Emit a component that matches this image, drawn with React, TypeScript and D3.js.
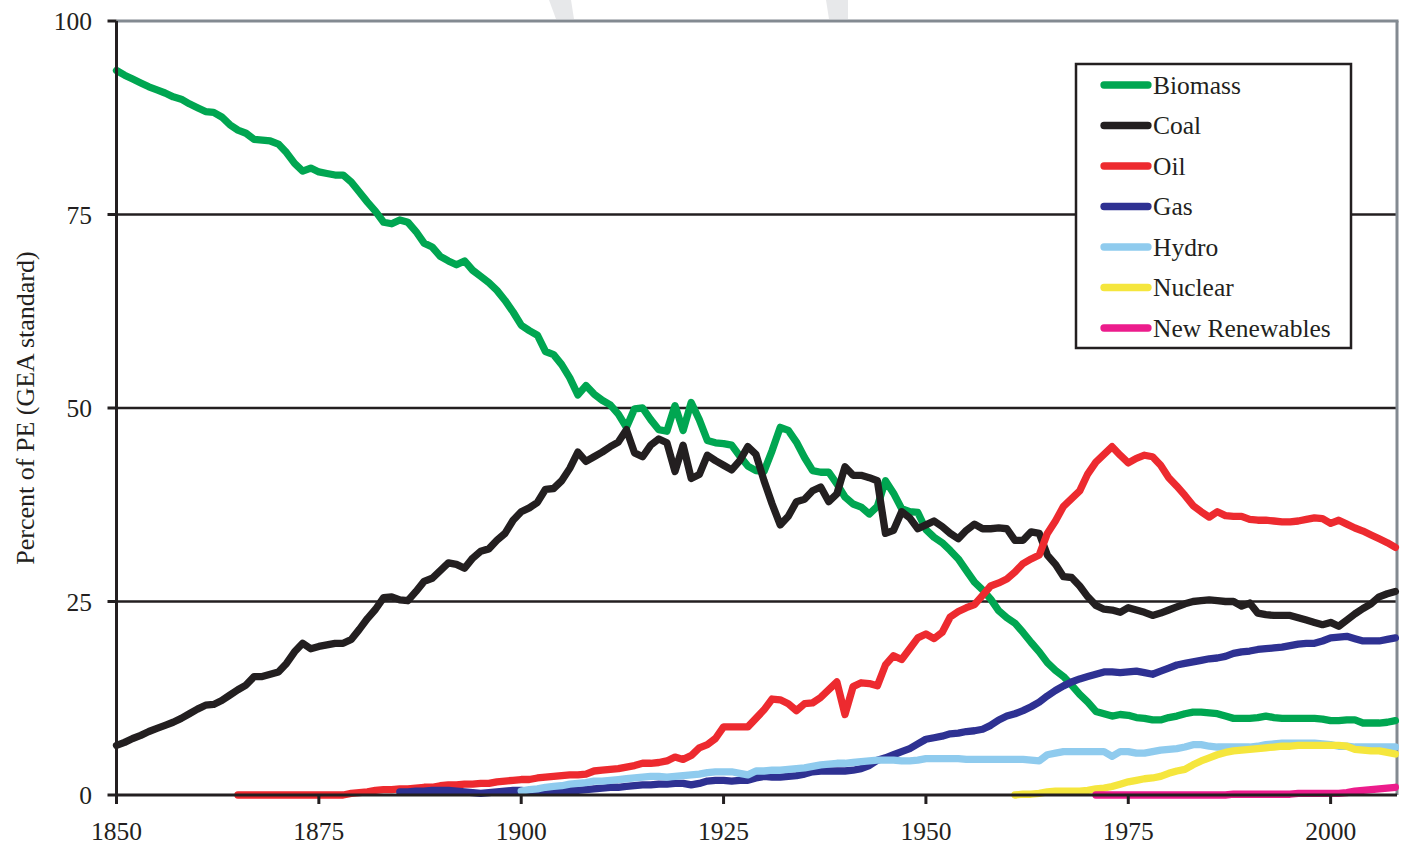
import React from "react";
import * as d3 from "d3";

// ---------- data (percent of primary energy, GEA standard) ----------
const xTicks = [1850, 1875, 1900, 1925, 1950, 1975, 2000];
const yTicks = [0, 25, 50, 75, 100];

const biomassStart = 1850;
const biomass = [
  93.6, 93.0, 92.5, 92.0, 91.5, 91.1, 90.7, 90.2, 89.9, 89.3, // 1850
  88.8, 88.3, 88.2, 87.6, 86.6, 85.9, 85.5, 84.7, 84.6, 84.5, // 1860
  84.1, 83.0, 81.6, 80.6, 81.0, 80.5, 80.3, 80.1, 80.1, 79.2, // 1870
  77.9, 76.6, 75.4, 74.0, 73.8, 74.3, 74.0, 72.8, 71.3, 70.8, // 1880
  69.6, 69.0, 68.5, 69.0, 67.8, 67.0, 66.2, 65.2, 63.9, 62.4, // 1890
  60.7, 60.0, 59.4, 57.3, 56.9, 55.6, 53.9, 51.7, 52.9, 51.8, // 1900
  51.0, 50.4, 49.2, 47.5, 49.9, 50.0, 48.5, 47.2, 47.0, 50.3, // 1910
  47.1, 50.7, 48.5, 45.8, 45.5, 45.4, 45.2, 43.8, 42.5, 41.9, // 1920
  41.8, 44.5, 47.5, 47.1, 45.6, 43.6, 41.9, 41.7, 41.7, 40.2, // 1930
  38.5, 37.6, 37.2, 36.3, 37.3, 40.6, 39.0, 37.0, 36.6, 36.5, // 1940
  34.3, 33.3, 32.6, 31.6, 30.5, 29.0, 27.5, 26.5, 25.3, 23.8, // 1950
  22.9, 22.2, 21.0, 19.7, 18.5, 17.1, 16.1, 15.3, 14.2, 13.0, // 1960
  12.0, 10.8, 10.5, 10.2, 10.4, 10.3, 10.0, 9.9, 9.7, 9.7,    // 1970
  10.0, 10.2, 10.5, 10.7, 10.7, 10.6, 10.5, 10.2, 9.9, 9.9,   // 1980
  9.9, 10.0, 10.2, 10.0, 9.9, 9.9, 9.9, 9.9, 9.9, 9.8,        // 1990
  9.6, 9.6, 9.7, 9.7, 9.3, 9.3, 9.3, 9.4, 9.6,                // 2000
];

const coalStart = 1850;
const coal = [
  6.4, 6.8, 7.3, 7.7, 8.2, 8.6, 9.0, 9.4, 9.9, 10.5,          // 1850
  11.1, 11.6, 11.7, 12.2, 12.9, 13.6, 14.2, 15.3, 15.3, 15.6, // 1860
  15.9, 17.0, 18.5, 19.6, 18.9, 19.2, 19.4, 19.6, 19.6, 20.1, // 1870
  21.4, 22.8, 24.0, 25.5, 25.6, 25.2, 25.1, 26.3, 27.6, 28.0, // 1880
  29.0, 30.0, 29.8, 29.3, 30.6, 31.5, 31.8, 32.9, 33.8, 35.5, // 1890
  36.6, 37.1, 37.8, 39.5, 39.6, 40.6, 42.2, 44.3, 43.1, 43.7, // 1900
  44.3, 45.0, 45.6, 47.2, 44.2, 43.7, 45.2, 46.0, 45.5, 41.8, // 1910
  45.2, 40.9, 41.4, 43.9, 43.2, 42.6, 42.0, 43.2, 45.0, 44.0, // 1920
  40.6, 37.6, 34.9, 36.0, 37.9, 38.2, 39.3, 39.8, 37.9, 38.9, // 1930
  42.4, 41.3, 41.3, 41.0, 40.6, 33.8, 34.2, 36.6, 35.8, 34.4, // 1940
  34.9, 35.4, 34.7, 33.8, 33.1, 34.2, 35.0, 34.4, 34.4, 34.5, // 1950
  34.4, 32.9, 32.9, 34.0, 33.8, 31.0, 29.8, 28.2, 28.1, 27.0, // 1960
  25.6, 24.5, 24.0, 23.9, 23.6, 24.2, 23.9, 23.6, 23.2, 23.5, // 1970
  23.9, 24.3, 24.7, 25.0, 25.1, 25.2, 25.1, 25.0, 25.0, 24.4, // 1980
  24.8, 23.5, 23.3, 23.2, 23.2, 23.2, 22.9, 22.6, 22.3, 22.0, // 1990
  22.3, 21.8, 22.6, 23.4, 24.1, 24.7, 25.6, 26.0, 26.3,       // 2000
];

const oilStart = 1865;
const oil = [
  0.0, 0.0, 0.0, 0.0, 0.0,                                    // 1865
  0.0, 0.0, 0.0, 0.0, 0.0, 0.0, 0.0, 0.0, 0.0, 0.2,           // 1870
  0.3, 0.4, 0.6, 0.7, 0.7, 0.8, 0.8, 0.9, 1.0, 1.0,           // 1880
  1.2, 1.3, 1.3, 1.4, 1.4, 1.5, 1.5, 1.7, 1.8, 1.9,           // 1890
  2.0, 2.0, 2.2, 2.3, 2.4, 2.5, 2.6, 2.6, 2.7, 3.1,           // 1900
  3.2, 3.3, 3.4, 3.6, 3.8, 4.1, 4.1, 4.2, 4.4, 4.9,           // 1910
  4.6, 5.1, 6.1, 6.5, 7.3, 8.8, 8.8, 8.8, 8.8, 9.9,           // 1920
  11.0, 12.4, 12.3, 11.8, 10.9, 11.8, 11.9, 12.6, 13.6, 14.6, // 1930
  10.4, 14.0, 14.5, 14.4, 14.1, 16.8, 18.0, 17.5, 18.9, 20.3, // 1940
  20.8, 20.2, 21.0, 23.0, 23.7, 24.2, 24.6, 25.8, 27.0, 27.4, // 1950
  27.9, 28.8, 29.9, 30.5, 31.0, 33.8, 35.4, 37.3, 38.3, 39.3, // 1960
  41.5, 43.0, 44.0, 45.0, 43.9, 42.9, 43.5, 43.9, 43.7, 42.6, // 1970
  41.0, 39.9, 38.7, 37.4, 36.6, 35.9, 36.6, 36.1, 36.0, 36.0, // 1980
  35.6, 35.5, 35.5, 35.4, 35.3, 35.3, 35.4, 35.6, 35.8, 35.7, // 1990
  35.1, 35.5, 35.0, 34.5, 34.1, 33.6, 33.1, 32.6, 32.0,       // 2000
];

const gasStart = 1885;
const gas = [
  0.4, 0.4, 0.5, 0.5, 0.6,                                    // 1885
  0.6, 0.6, 0.5, 0.4, 0.3, 0.2, 0.3, 0.4, 0.5, 0.6,           // 1890
  0.6, 0.5, 0.5, 0.4, 0.5, 0.5, 0.6, 0.6, 0.7, 0.8,           // 1900
  0.9, 1.0, 1.0, 1.1, 1.2, 1.3, 1.3, 1.4, 1.4, 1.5,           // 1910
  1.5, 1.3, 1.5, 1.8, 1.9, 1.9, 1.8, 1.9, 1.9, 2.2,           // 1920
  2.4, 2.3, 2.3, 2.4, 2.5, 2.7, 3.0, 3.1, 3.1, 3.1,           // 1930
  3.1, 3.2, 3.4, 3.8, 4.5, 4.8, 5.2, 5.6, 6.0, 6.6,           // 1940
  7.2, 7.4, 7.6, 7.9, 8.0, 8.2, 8.3, 8.5, 9.0, 9.7,           // 1950
  10.2, 10.5, 10.9, 11.4, 12.0, 12.8, 13.5, 14.1, 14.6, 15.0, // 1960
  15.3, 15.6, 15.9, 15.9, 15.8, 15.9, 16.0, 15.8, 15.6, 16.0, // 1970
  16.4, 16.8, 17.0, 17.2, 17.4, 17.6, 17.7, 17.9, 18.3, 18.5, // 1980
  18.6, 18.8, 18.9, 19.0, 19.1, 19.3, 19.5, 19.6, 19.6, 19.9, // 1990
  20.3, 20.4, 20.5, 20.2, 19.9, 19.9, 19.9, 20.1, 20.3,       // 2000
];

const hydroStart = 1900;
const hydro = [
  0.5, 0.7, 0.8, 1.0, 1.1, 1.2, 1.4, 1.5, 1.6, 1.8, // 1900
  1.8, 1.9, 2.0, 2.1, 2.2, 2.3, 2.4, 2.4, 2.3, 2.4, // 1910
  2.5, 2.6, 2.7, 2.9, 3.0, 3.0, 3.0, 2.8, 2.6, 3.1, // 1920
  3.1, 3.2, 3.2, 3.3, 3.4, 3.5, 3.7, 3.9, 4.0, 4.1, // 1930
  4.1, 4.2, 4.3, 4.4, 4.5, 4.5, 4.5, 4.4, 4.4, 4.5, // 1940
  4.7, 4.7, 4.7, 4.7, 4.7, 4.6, 4.6, 4.6, 4.6, 4.6, // 1950
  4.6, 4.6, 4.6, 4.5, 4.4, 5.2, 5.4, 5.6, 5.6, 5.6, // 1960
  5.6, 5.6, 5.6, 5.0, 5.6, 5.6, 5.4, 5.4, 5.6, 5.8, // 1970
  5.9, 6.0, 6.2, 6.5, 6.5, 6.3, 6.2, 6.2, 6.2, 6.2, // 1980
  6.2, 6.3, 6.5, 6.6, 6.7, 6.7, 6.7, 6.7, 6.7, 6.6, // 1990
  6.5, 6.3, 6.3, 6.2, 6.2, 6.2, 6.2, 6.2, 6.2,      // 2000
];

const nuclearStart = 1961;
const nuclear = [
  0.0, 0.1, 0.1, 0.2, 0.4, 0.5, 0.5, 0.5, 0.5,      // 1961
  0.6, 0.8, 0.9, 1.1, 1.4, 1.7, 1.9, 2.1, 2.2, 2.4, // 1970
  2.8, 3.1, 3.3, 3.9, 4.4, 4.8, 5.2, 5.5, 5.7, 5.8, // 1980
  5.9, 6.0, 6.1, 6.2, 6.3, 6.3, 6.4, 6.4, 6.4, 6.4, // 1990
  6.4, 6.4, 6.3, 5.9, 5.8, 5.7, 5.7, 5.5, 5.3,      // 2000
];

const renewablesStart = 1971;
const renewables = [
  0.0, 0.0, 0.0, 0.0, 0.0, 0.0, 0.0, 0.0, 0.0,      // 1971
  0.0, 0.0, 0.0, 0.0, 0.0, 0.0, 0.0, 0.0, 0.1, 0.1, // 1980
  0.1, 0.1, 0.1, 0.1, 0.1, 0.1, 0.2, 0.2, 0.2, 0.2, // 1990
  0.2, 0.2, 0.3, 0.5, 0.6, 0.7, 0.8, 0.9, 1.0,      // 2000
];

const seriesNames = ["Biomass", "Coal", "Oil", "Gas", "Hydro", "Nuclear", "New Renewables"];
const seriesColors = ["#00A651", "#231F20", "#ED2A2F", "#2E3192", "#8FCBEE", "#F5E63D", "#EC1C8C"];
const seriesStarts = [biomassStart, coalStart, oilStart, gasStart, hydroStart, nuclearStart, renewablesStart];
const seriesValues = [biomass, coal, oil, gas, hydro, nuclear, renewables];

export default function App() {
  const W = 1405;
  const H = 848;
  const left = 116.5;
  const right = 1397;
  const top = 21;
  const bottom = 795;

  const x = d3.scaleLinear().domain([1850, 2008.2]).range([left, right]);
  const y = d3.scaleLinear().domain([0, 100]).range([bottom, top]);

  const line = d3
    .line<[number, number]>()
    .x((d) => x(d[0]))
    .y((d) => y(d[1]));

  const ink = "#231F20";
  const font = "'Liberation Serif', 'Times New Roman', serif";
  const fs = 25.5;
  const lw = 7.3;

  const series = seriesNames.map((name, i) => ({
    name,
    color: seriesColors[i],
    points: seriesValues[i].map((v, j) => [seriesStarts[i] + j, v] as [number, number]),
  }));

  const legX = 1076;
  const legY = 64;
  const legW = 275;
  const legH = 284;
  const rowY = (i: number) => 85 + i * 40.5;

  return (
    <svg
      width={W}
      height={H}
      style={{ position: "absolute", left: 0, top: 0, background: "#fff" }}
      fontFamily={font}
    >
      <rect x={0} y={0} width={W} height={H} fill="#fff" />
      {/* faint watermark fragments above plot */}
      <path d="M549,0 L571,0 L574,19 L556,19 Z" fill="#E7E8EA" />
      <path d="M826,0 L848,0 L848,19 L829,19 Z" fill="#E7E8EA" />

      {/* plot background */}
      <rect x={left} y={top} width={right - left} height={bottom - top} fill="#fff" />

      {/* gridlines */}
      {yTicks
        .filter((t) => t > 0 && t < 100)
        .map((t) => (
          <line key={t} x1={left} x2={right} y1={y(t)} y2={y(t)} stroke={ink} strokeWidth={2.6} />
        ))}
      {/* top and right frame (grey) */}
      <line x1={left} x2={right + 1.5} y1={y(100)} y2={y(100)} stroke="#838A91" strokeWidth={3} />
      <line x1={right} x2={right} y1={y(100)} y2={bottom} stroke="#838A91" strokeWidth={3} />

      {/* series */}
      {series.map((s) => (
        <path
          key={s.name}
          d={line(s.points) || ""}
          fill="none"
          stroke={s.color}
          strokeWidth={lw}
          strokeLinejoin="round"
          strokeLinecap="round"
        />
      ))}

      {/* axes */}
      <line x1={left} x2={right} y1={bottom} y2={bottom} stroke={ink} strokeWidth={3} />
      <line x1={left} x2={left} y1={y(100)} y2={bottom + 9} stroke={ink} strokeWidth={3} />
      {yTicks.map((t) => (
        <g key={t}>
          <line x1={left - 9} x2={left} y1={y(t)} y2={y(t)} stroke={ink} strokeWidth={3} />
          <text x={92} y={y(t) + 9} textAnchor="end" fontSize={fs} fill={ink}>
            {t}
          </text>
        </g>
      ))}
      {xTicks.map((t) => (
        <g key={t}>
          <line x1={x(t)} x2={x(t)} y1={bottom} y2={bottom + 9} stroke={ink} strokeWidth={3} />
          <text x={x(t)} y={840} textAnchor="middle" fontSize={fs} fill={ink}>
            {t}
          </text>
        </g>
      ))}

      {/* y axis title */}
      <text
        transform={`translate(34,408) rotate(-90)`}
        textAnchor="middle"
        fontSize={26}
        fill={ink}
      >
        Percent of PE (GEA standard)
      </text>

      {/* legend */}
      <rect x={legX} y={legY} width={legW} height={legH} fill="#fff" stroke={ink} strokeWidth={2.5} />
      {series.map((s, i) => (
        <g key={s.name}>
          <line
            x1={1104}
            x2={1148}
            y1={rowY(i)}
            y2={rowY(i)}
            stroke={s.color}
            strokeWidth={lw}
            strokeLinecap="round"
          />
          <text x={1153} y={rowY(i) + 8.5} fontSize={fs} fill={ink}>
            {s.name}
          </text>
        </g>
      ))}
    </svg>
  );
}
